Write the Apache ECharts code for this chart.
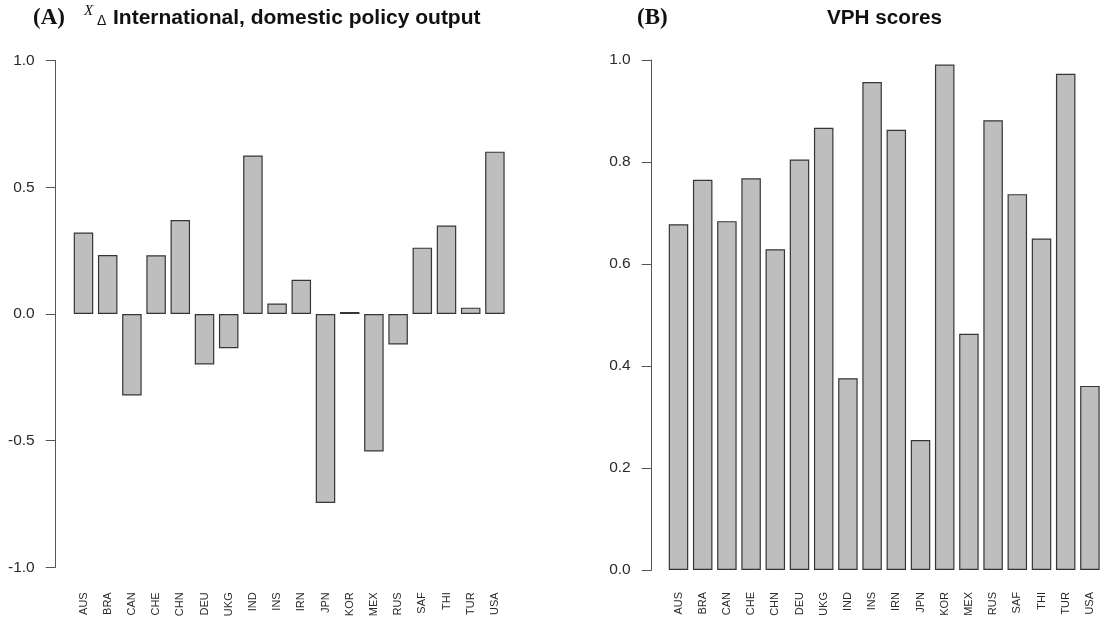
<!DOCTYPE html>
<html>
<head>
<meta charset="utf-8">
<script src="https://cdn.jsdelivr.net/npm/echarts@6/dist/echarts.min.js"></script>
<style>
  html, body { margin: 0; padding: 0; background: #fff; }
  #chart { width: 1102px; height: 625px; }
</style>
</head>
<body>
<div id="chart"></div>
<script>
// Countries shown on both panels
const countries = ['AUS','BRA','CAN','CHE','CHN','DEU','UKG','IND','INS','IRN','JPN','KOR','MEX','RUS','SAF','THI','TUR','USA'];
// Panel A: change in international vs domestic policy output
const policyOutput = [0.322, 0.233, -0.322, 0.232, 0.371, -0.199, -0.135, 0.626, 0.041, 0.135, -0.746, 0.008, -0.543, -0.120, 0.262, 0.349, 0.025, 0.641];
// Panel B: VPH scores
const vphScores = [0.678, 0.765, 0.684, 0.768, 0.629, 0.805, 0.867, 0.376, 0.957, 0.863, 0.255, 0.991, 0.463, 0.882, 0.737, 0.650, 0.973, 0.361];
// Axis ranges and tick steps
const policyTicks = { min: -1, max: 1, step: 0.5 };
const vphTicks = { min: 0, max: 1, step: 0.2 };

const sans = 'Liberation Sans, Arial, Helvetica, sans-serif';
const serif = 'Liberation Serif, Times New Roman, serif';
const barFill = '#bebebe';
const barEdge = '#363636';
const axisInk = '#555';

function valueAxis(gridIndex, ticks, offset) {
  return {
    type: 'value', gridIndex,
    min: ticks.min, max: ticks.max, interval: ticks.step,
    offset,
    axisLine: { show: true, lineStyle: { color: axisInk, width: 1 } },
    axisTick: { show: true, inside: false, length: 10, lineStyle: { color: axisInk, width: 1 } },
    axisLabel: {
      margin: 21, color: '#2a2a2a', fontFamily: sans, fontSize: 15.5,
      formatter: v => v.toFixed(1)
    },
    splitLine: { show: false }
  };
}

function categoryAxis(gridIndex, margin) {
  return {
    type: 'category', gridIndex, data: countries,
    axisLine: { show: false }, axisTick: { show: false },
    axisLabel: { rotate: 90, interval: 0, margin, color: '#2a2a2a', fontFamily: sans, fontSize: 11 }
  };
}

const barStyle = { color: barFill, borderColor: barEdge, borderWidth: 1.2 };

const option = {
  animation: false,
  backgroundColor: '#fff',
  title: [
    { text: '(A)', left: 33, top: 7, padding: 0,
      textStyle: { fontFamily: serif, fontWeight: 'bold', fontSize: 23, color: '#111' } },
    { text: 'X', left: 84, top: 4, padding: 0,
      textStyle: { fontFamily: serif, fontStyle: 'italic', fontWeight: 'normal', fontSize: 15, color: '#111' } },
    { text: 'Δ', left: 97, top: 14, padding: 0,
      textStyle: { fontFamily: sans, fontWeight: 'normal', fontSize: 14, color: '#111' } },
    { text: 'International, domestic policy output', left: 113, top: 8, padding: 0,
      textStyle: { fontFamily: sans, fontWeight: 'bold', fontSize: 21, color: '#111' } },
    { text: '(B)', left: 637, top: 7, padding: 0,
      textStyle: { fontFamily: serif, fontWeight: 'bold', fontSize: 23, color: '#111' } },
    { text: 'VPH scores', left: 827, top: 8, padding: 0,
      textStyle: { fontFamily: sans, fontWeight: 'bold', fontSize: 20.7, color: '#111' } }
  ],
  grid: [
    { left: 71.4, width: 435.6, top: 60.7, height: 506.6, containLabel: false },
    { left: 666.4, width: 435.6, top: 60, height: 510, containLabel: false }
  ],
  xAxis: [categoryAxis(0, 25), categoryAxis(1, 22)],
  yAxis: [valueAxis(0, policyTicks, 15.7), valueAxis(1, vphTicks, 14.7)],
  series: [
    { type: 'bar', xAxisIndex: 0, yAxisIndex: 0, data: policyOutput, barWidth: 19.5, itemStyle: barStyle },
    { type: 'bar', xAxisIndex: 1, yAxisIndex: 1, data: vphScores, barWidth: 19.5, itemStyle: barStyle }
  ]
};

echarts.init(document.getElementById('chart')).setOption(option);
</script>
</body>
</html>
